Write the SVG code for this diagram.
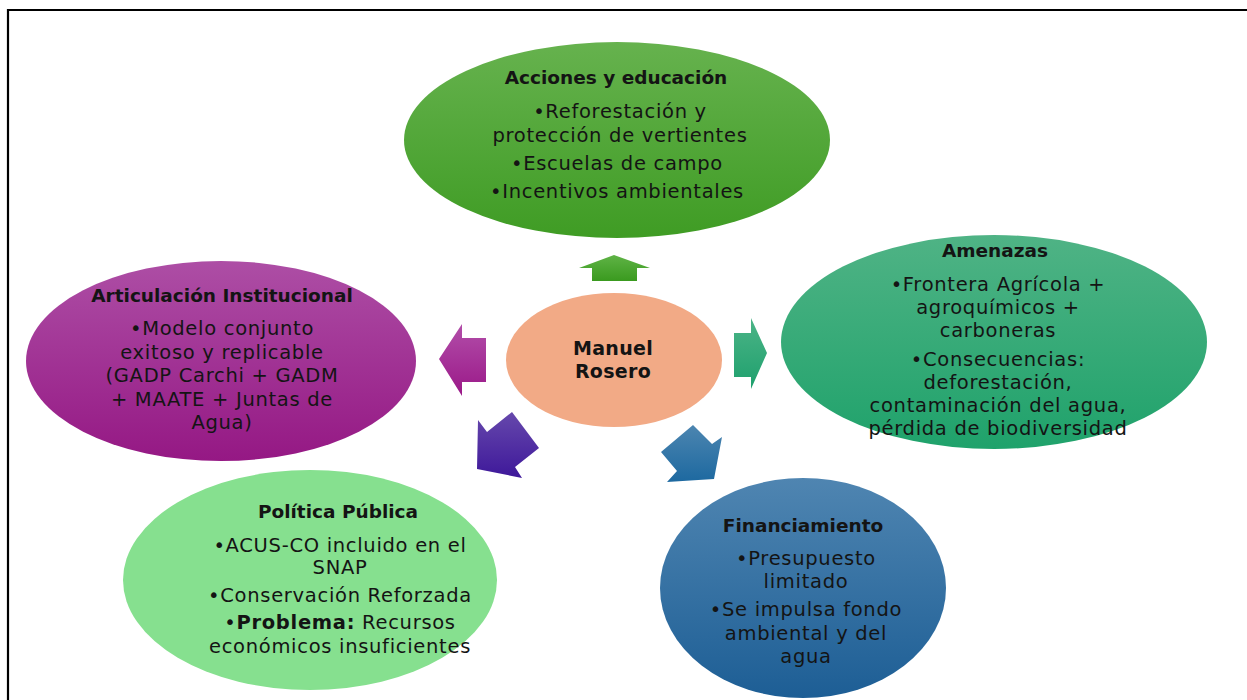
<svg xmlns="http://www.w3.org/2000/svg" width="1247" height="700" viewBox="0 0 1247 700">
<defs>
<linearGradient id="gTop" x1="0" y1="0" x2="0" y2="1"><stop offset="0" stop-color="#66b24e"/><stop offset="1" stop-color="#3f9c24"/></linearGradient>
<linearGradient id="gAmen" x1="0" y1="0" x2="0" y2="1"><stop offset="0" stop-color="#4fb385"/><stop offset="1" stop-color="#1fa26b"/></linearGradient>
<linearGradient id="gFin" x1="0" y1="0" x2="0" y2="1"><stop offset="0" stop-color="#4f85b1"/><stop offset="1" stop-color="#1d5e95"/></linearGradient>
<linearGradient id="gArt" x1="0" y1="0" x2="0" y2="1"><stop offset="0" stop-color="#ad4ea5"/><stop offset="1" stop-color="#951884"/></linearGradient>
<linearGradient id="aUp" x1="0" y1="0" x2="0" y2="1"><stop offset="0" stop-color="#5fb346"/><stop offset="1" stop-color="#3a9a1f"/></linearGradient>
<linearGradient id="aLeft" x1="0" y1="0" x2="0" y2="1"><stop offset="0" stop-color="#b24ea9"/><stop offset="1" stop-color="#9a1888"/></linearGradient>
<linearGradient id="aRight" x1="0" y1="0" x2="0" y2="1"><stop offset="0" stop-color="#4cb487"/><stop offset="1" stop-color="#1ea06d"/></linearGradient>
<linearGradient id="aSW" x1="0" y1="0" x2="0" y2="1"><stop offset="0" stop-color="#6648ac"/><stop offset="1" stop-color="#3e189a"/></linearGradient>
<linearGradient id="aSE" x1="0" y1="0" x2="0" y2="1"><stop offset="0" stop-color="#4c85b0"/><stop offset="1" stop-color="#1d69a0"/></linearGradient>
</defs>
<style>
text{font-family:"DejaVu Sans","Liberation Sans",sans-serif;fill:#141414;text-anchor:middle}
.t{font-weight:bold;font-size:18.5px}
.b{font-size:19.5px;letter-spacing:0.7px}
.c{font-weight:bold;font-size:19px;letter-spacing:0.3px}
</style>
<rect x="0" y="0" width="1247" height="700" fill="#ffffff"/>
<path d="M8,700 V10 H1247" fill="none" stroke="#000" stroke-width="2.2"/>

<g id="connectors">
<polygon points="614,255 650,268 637,268 637,281 592,281 592,268 579,268" fill="url(#aUp)"/>
<polygon points="439,359 462,324 462,338 486,338 486,382 462,382 462,396" fill="url(#aLeft)"/>
<polygon points="767,353 751,318 751,333 734,333 734,377 751,377 751,389" fill="url(#aRight)"/>
<polygon points="477,469 478,420 487,432 512,412 539,448 515,467 522,478" fill="url(#aSW)"/>
<polygon points="714,479 667,482 677,471 661,452 693,425 712,444 722,437" fill="url(#aSE)"/>
</g>

<g id="node-acciones">
<ellipse cx="617" cy="140" rx="213" ry="98" fill="url(#gTop)"/>
<text class="t" x="616" y="84">Acciones y educación</text>
<text class="b" x="620" y="118">•Reforestación y</text>
<text class="b" x="620" y="142">protección de vertientes</text>
<text class="b" x="617" y="170">•Escuelas de campo</text>
<text class="b" x="617" y="198">•Incentivos ambientales</text>
</g>

<g id="node-amenazas">
<ellipse cx="994" cy="342" rx="213" ry="107" fill="url(#gAmen)"/>
<text class="t" x="995" y="257">Amenazas</text>
<text class="b" x="998" y="291">•Frontera Agrícola +</text>
<text class="b" x="998" y="314">agroquímicos +</text>
<text class="b" x="998" y="337">carboneras</text>
<text class="b" x="998" y="366">•Consecuencias:</text>
<text class="b" x="998" y="389">deforestación,</text>
<text class="b" x="998" y="412">contaminación del agua,</text>
<text class="b" x="998" y="435">pérdida de biodiversidad</text>
</g>

<g id="node-articulacion">
<ellipse cx="221" cy="361" rx="195" ry="100" fill="url(#gArt)"/>
<text class="t" x="222" y="302">Articulación Institucional</text>
<text class="b" x="222" y="335">•Modelo conjunto</text>
<text class="b" x="222" y="359">exitoso y replicable</text>
<text class="b" x="222" y="382">(GADP Carchi + GADM</text>
<text class="b" x="222" y="406">+ MAATE + Juntas de</text>
<text class="b" x="222" y="429">Agua)</text>
</g>

<g id="node-manuel">
<ellipse cx="614" cy="360" rx="108" ry="67" fill="#f2aa86"/>
<text class="c" x="613" y="355">Manuel</text>
<text class="c" x="613" y="378">Rosero</text>
</g>

<g id="node-politica">
<ellipse cx="310" cy="580" rx="187" ry="110" fill="#86e08f"/>
<text class="t" x="338" y="518">Política Pública</text>
<text class="b" x="340" y="552">•ACUS-CO incluido en el</text>
<text class="b" x="340" y="574">SNAP</text>
<text class="b" x="340" y="602">•Conservación Reforzada</text>
<text class="b" x="340" y="629">•<tspan font-weight="bold">Problema:</tspan> Recursos</text>
<text class="b" x="340" y="653">económicos insuficientes</text>
</g>

<g id="node-financiamiento">
<ellipse cx="803" cy="588" rx="143" ry="110" fill="url(#gFin)"/>
<text class="t" x="803" y="532">Financiamiento</text>
<text class="b" x="806" y="565">•Presupuesto</text>
<text class="b" x="806" y="588">limitado</text>
<text class="b" x="806" y="616">•Se impulsa fondo</text>
<text class="b" x="806" y="640">ambiental y del</text>
<text class="b" x="806" y="663">agua</text>
</g>
</svg>
